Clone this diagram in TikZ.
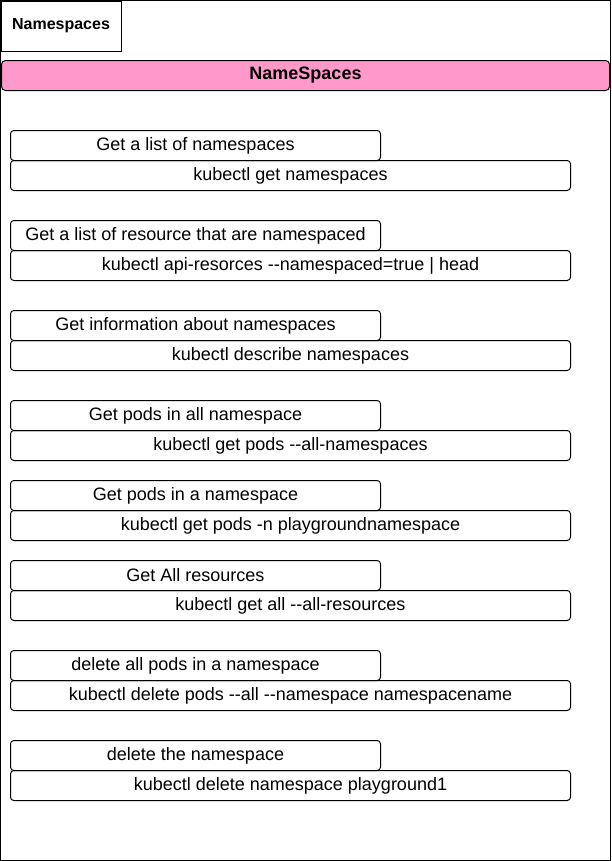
\documentclass[tikz,border=0pt]{standalone}
\usepackage{fontspec}
\setmainfont{Liberation Sans}[Ligatures=TeXOff]
\usepackage{xcolor}
\usetikzlibrary{positioning}
\definecolor{nspink}{HTML}{FF99CC}

\tikzset{
  labelbox/.style={draw, rounded corners=2.5pt, minimum width=277.5pt, minimum height=22.5pt, inner sep=0pt, font=\fontsize{13.5}{16}\selectfont},
  cmdbox/.style={draw, rounded corners=2.5pt, minimum width=420pt, minimum height=22.5pt, inner sep=0pt, font=\fontsize{13.5}{16}\selectfont}
}

\begin{document}
\begin{tikzpicture}[x=0.75pt, y=-0.75pt, line width=0.75pt]
  \useasboundingbox (0, 0) rectangle (611, 861);

  % Outer frame and title tab
  \draw (0.5, 0.5) rectangle (610, 860);
  \node[draw, anchor=north west, minimum width=90pt, minimum height=37.5pt, inner sep=0pt, font=\bfseries\fontsize{12}{14}\selectfont] (title) at (0.5, 0.5) {Namespaces};

  % Header bar
  \node[draw, fill=nspink, rounded corners=3pt, anchor=north west, minimum width=456pt, minimum height=22.5pt, inner sep=0pt, font=\bfseries\fontsize{13.5}{16}\selectfont] (header) at (1, 60) {NameSpaces};

  % Command pairs
  \node[labelbox, anchor=north west] (list) at (10, 130) {Get a list of namespaces};
  \node[cmdbox, anchor=north west] (listcmd) at (10, 160) {kubectl get namespaces};

  \node[labelbox, anchor=north west] (res) at (10, 220) {Get a list of resource that are namespaced};
  \node[cmdbox, anchor=north west] (rescmd) at (10, 250) {kubectl api-resorces --namespaced=true | head};

  \node[labelbox, anchor=north west] (info) at (10, 310) {Get information about namespaces};
  \node[cmdbox, anchor=north west] (infocmd) at (10, 340) {kubectl describe namespaces};

  \node[labelbox, anchor=north west] (allpods) at (10, 400) {Get pods in all namespace};
  \node[cmdbox, anchor=north west] (allpodscmd) at (10, 430) {kubectl get pods --all-namespaces};

  \node[labelbox, anchor=north west] (pods) at (10, 480) {Get pods in a namespace};
  \node[cmdbox, anchor=north west] (podscmd) at (10, 510) {kubectl get pods -n playgroundnamespace};

  \node[labelbox, anchor=north west] (all) at (10, 560) {Get All resources};
  \node[cmdbox, anchor=north west] (allcmd) at (10, 590) {kubectl get all --all-resources};

  \node[labelbox, anchor=north west] (delpods) at (10, 650) {delete all pods in a namespace};
  \node[cmdbox, anchor=north west] (delpodscmd) at (10, 680) {kubectl delete pods --all --namespace namespacename};

  \node[labelbox, anchor=north west] (delns) at (10, 740) {delete the namespace};
  \node[cmdbox, anchor=north west] (delnscmd) at (10, 770) {kubectl delete namespace playground1};
\end{tikzpicture}
\end{document}
